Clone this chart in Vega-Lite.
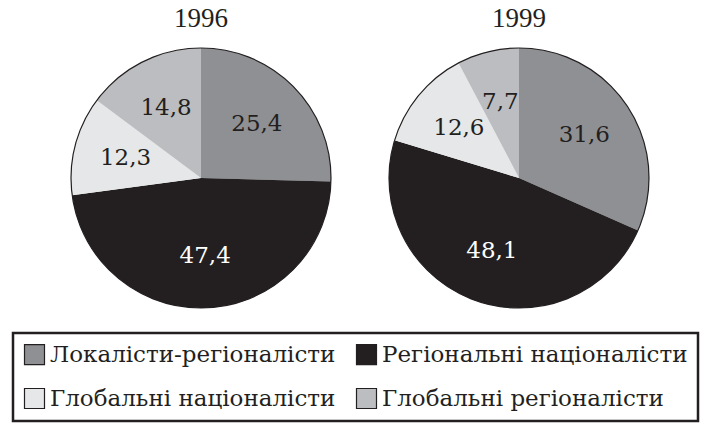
{
  "$schema": "https://vega.github.io/schema/vega-lite/v6.json",
  "padding": {"left": 11, "top": 4, "right": 1, "bottom": 1},
  "config": {
    "view": {"stroke": null},
    "locale": {"number": {"decimal": ",", "thousands": " ", "grouping": [3], "currency": ["", ""]}},
    "title": {"font": "Liberation Serif", "fontSize": 27, "fontWeight": "normal", "color": "#231f20", "offset": 13, "anchor": "middle"}
  },
  "data": {"values": [
    {"year": "1996", "g": "Локалісти-регіоналісти", "v": 25.4, "n": 1},
    {"year": "1996", "g": "Регіональні націоналісти", "v": 47.4, "n": 2},
    {"year": "1996", "g": "Глобальні націоналісти", "v": 12.3, "n": 3},
    {"year": "1996", "g": "Глобальні регіоналісти", "v": 14.8, "n": 4},
    {"year": "1999", "g": "Локалісти-регіоналісти", "v": 31.6, "n": 1},
    {"year": "1999", "g": "Регіональні націоналісти", "v": 48.1, "n": 2},
    {"year": "1999", "g": "Глобальні націоналісти", "v": 12.6, "n": 3},
    {"year": "1999", "g": "Глобальні регіоналісти", "v": 7.7, "n": 4}
  ]},
  "spacing": 52,
  "hconcat": [
    {
      "title": {"text": "1996"},
      "width": 260, "height": 260,
      "transform": [{"filter": "datum.year === '1996'"}],
      "layer": [
        {
          "mark": {"type": "arc"},
          "encoding": {
            "theta": {"field": "v", "type": "quantitative", "stack": true},
            "order": {"field": "n", "type": "quantitative"},
            "color": {"field": "g", "type": "nominal",
              "scale": {"domain": ["Локалісти-регіоналісти", "Регіональні націоналісти", "Глобальні націоналісти", "Глобальні регіоналісти"], "range": ["#8f9093", "#231f20", "#e6e7e8", "#bcbdc0"]},
              "legend": {"orient": "none", "legendX": -58, "legendY": 285, "direction": "horizontal", "columns": 2, "title": null,
                "symbolType": "square", "symbolSize": 400, "symbolStrokeColor": "#231f20", "symbolStrokeWidth": 1.2,
                "labelFont": "DejaVu Serif", "labelFontSize": 23, "labelColor": "#231f20", "labelLimit": 500, "labelOffset": 4,
                "columnPadding": 18, "rowPadding": 19, "padding": 10, "strokeColor": "#231f20",
                "encode": {"legend": {"update": {"strokeWidth": {"value": 2.5}}}}}}
          }
        },
        {
          "mark": {"type": "text", "radius": 78, "font": "DejaVu Serif", "fontSize": 23, "fontWeight": "normal"},
          "encoding": {
            "theta": {"field": "v", "type": "quantitative", "stack": true},
            "order": {"field": "n", "type": "quantitative"},
            "detail": {"field": "g", "type": "nominal"},
            "text": {"field": "v", "type": "quantitative", "format": ".1f"},
            "color": {"condition": {"test": "datum.g === 'Регіональні націоналісти'", "value": "#ffffff"}, "value": "#231f20"}
          }
        },
        {
          "transform": [{"aggregate": [{"op": "sum", "field": "v", "as": "t"}]}],
          "mark": {"type": "arc", "filled": false, "stroke": "#231f20", "strokeWidth": 1.2},
          "encoding": {"theta": {"field": "t", "type": "quantitative"}}
        }
      ]
    },
    {
      "title": {"text": "1999"},
      "width": 260, "height": 260,
      "transform": [{"filter": "datum.year === '1999'"}],
      "layer": [
        {
          "mark": {"type": "arc"},
          "encoding": {
            "theta": {"field": "v", "type": "quantitative", "stack": true},
            "order": {"field": "n", "type": "quantitative"},
            "color": {"field": "g", "type": "nominal",
              "scale": {"domain": ["Локалісти-регіоналісти", "Регіональні націоналісти", "Глобальні націоналісти", "Глобальні регіоналісти"], "range": ["#8f9093", "#231f20", "#e6e7e8", "#bcbdc0"]},
              "legend": {"orient": "none", "legendX": -58, "legendY": 285, "direction": "horizontal", "columns": 2, "title": null,
                "symbolType": "square", "symbolSize": 400, "symbolStrokeColor": "#231f20", "symbolStrokeWidth": 1.2,
                "labelFont": "DejaVu Serif", "labelFontSize": 23, "labelColor": "#231f20", "labelLimit": 500, "labelOffset": 4,
                "columnPadding": 18, "rowPadding": 19, "padding": 10, "strokeColor": "#231f20",
                "encode": {"legend": {"update": {"strokeWidth": {"value": 2.5}}}}}}
          }
        },
        {
          "mark": {"type": "text", "radius": 78, "font": "DejaVu Serif", "fontSize": 23, "fontWeight": "normal"},
          "encoding": {
            "theta": {"field": "v", "type": "quantitative", "stack": true},
            "order": {"field": "n", "type": "quantitative"},
            "detail": {"field": "g", "type": "nominal"},
            "text": {"field": "v", "type": "quantitative", "format": ".1f"},
            "color": {"condition": {"test": "datum.g === 'Регіональні націоналісти'", "value": "#ffffff"}, "value": "#231f20"}
          }
        },
        {
          "transform": [{"aggregate": [{"op": "sum", "field": "v", "as": "t"}]}],
          "mark": {"type": "arc", "filled": false, "stroke": "#231f20", "strokeWidth": 1.2},
          "encoding": {"theta": {"field": "t", "type": "quantitative"}}
        }
      ]
    }
  ]
}
